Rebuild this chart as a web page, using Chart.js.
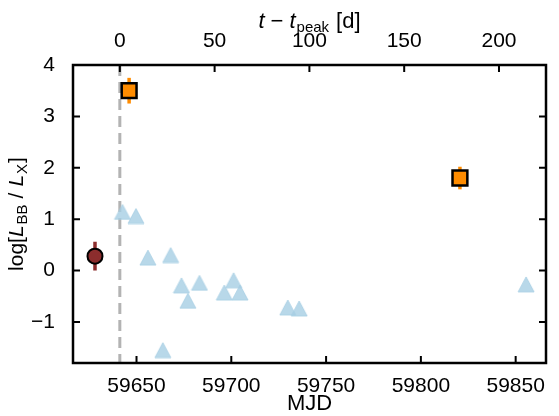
<!DOCTYPE html>
<html>
<head>
<meta charset="utf-8">
<script src="https://cdn.jsdelivr.net/npm/chart.js@4/dist/chart.umd.min.js"></script>
<style>
  html, body { margin: 0; padding: 0; background: #fff; }
  #grafico { display: block; }
</style>
</head>
<body>
<canvas id="grafico" width="559" height="416"></canvas>
<script>
// light blue triangles
const mjdTri = [59642.6, 59649.7, 59656.0, 59668.0, 59673.7, 59683.2, 59677.1,
                59701.2, 59696.3, 59704.6, 59729.8, 59735.8, 59663.9, 59855.5];
const logTri = [1.14, 1.06, 0.25, 0.30, -0.29, -0.24, -0.59,
                -0.19, -0.43, -0.43, -0.72, -0.74, -1.55, -0.27];

// dark red circle
const mjdCirc = [59628.1];
const logCirc = [0.28];
const errCirc = [0.28];

// orange squares
const mjdSq = [59646.1, 59820.6];
const logSq = [3.50, 1.80];
const errSq = [0.25, 0.22];

const tPeak = 59641.2;
const mjdRange = [59616.5, 59866];
const logRange = [-1.8, 4];
const mjdTicks = [59650, 59700, 59750, 59800, 59850];
const tTicks = [0, 50, 100, 150, 200];
const logTicks = [-1, 0, 1, 2, 3, 4];

const FONT = "'Liberation Sans', Arial, sans-serif";
const fmt = v => (v < 0 ? "\u2212" + Math.abs(v) : String(v));

// triangle marker centred on its bounding box (like matplotlib)
function triangleMarker() {
  const c = document.createElement("canvas");
  c.width = 18; c.height = 17;
  const g = c.getContext("2d");
  g.beginPath();
  g.moveTo(9, 1);
  g.lineTo(17, 16);
  g.lineTo(1, 16);
  g.closePath();
  g.fillStyle = "rgba(166,206,227,0.8)";
  g.fill();
  g.strokeStyle = "rgba(166,206,227,0.8)";
  g.lineWidth = 1;
  g.stroke();
  return c;
}

function toPoints(xs, ys) {
  return xs.map((x, i) => ({ x: x, y: ys[i] }));
}

function drawRuns(ctx, runs, x, y) {
  let total = 0;
  runs.forEach(r => { ctx.font = r.font; total += ctx.measureText(r.t).width + (r.gap || 0); });
  let cx = x - total / 2;
  ctx.textAlign = "left";
  ctx.textBaseline = "alphabetic";
  runs.forEach(r => {
    ctx.font = r.font;
    ctx.fillText(r.t, cx, y + (r.dy || 0));
    cx += ctx.measureText(r.t).width + (r.gap || 0);
  });
}

const overlay = {
  id: "overlay",
  beforeDatasetsDraw(chart) {
    const ctx = chart.ctx;
    const xs = chart.scales.x, ys = chart.scales.y;
    const a = chart.chartArea;
    ctx.save();
    // peak time line
    ctx.strokeStyle = "#b3b3b3";
    ctx.lineWidth = 3;
    ctx.setLineDash([11, 6]);
    const px = xs.getPixelForValue(tPeak);
    ctx.beginPath();
    ctx.moveTo(px, a.top);
    ctx.lineTo(px, a.bottom);
    ctx.stroke();
    ctx.setLineDash([]);
    // error bars
    const bars = (mx, my, me, col) => {
      ctx.strokeStyle = col;
      ctx.lineWidth = 3.5;
      mx.forEach((m, i) => {
        const x = xs.getPixelForValue(m);
        ctx.beginPath();
        ctx.moveTo(x, ys.getPixelForValue(my[i] - me[i]));
        ctx.lineTo(x, ys.getPixelForValue(my[i] + me[i]));
        ctx.stroke();
      });
    };
    bars(mjdCirc, logCirc, errCirc, "#8c2d2d");
    bars(mjdSq, logSq, errSq, "#ff8c00");
    ctx.restore();
  },
  afterDraw(chart) {
    const ctx = chart.ctx;
    const a = chart.chartArea;
    const xs = chart.scales.x, xt = chart.scales.xt, ys = chart.scales.y;
    ctx.save();
    ctx.strokeStyle = "#000";
    ctx.lineWidth = 2;
    const tl = 7;
    ctx.beginPath();
    mjdTicks.forEach(v => {
      const x = xs.getPixelForValue(v);
      ctx.moveTo(x, a.bottom); ctx.lineTo(x, a.bottom - tl);
    });
    tTicks.forEach(v => {
      const x = xt.getPixelForValue(v);
      ctx.moveTo(x, a.top); ctx.lineTo(x, a.top + tl);
    });
    logTicks.forEach(v => {
      const y = ys.getPixelForValue(v);
      ctx.moveTo(a.left, y); ctx.lineTo(a.left + tl, y);
      ctx.moveTo(a.right, y); ctx.lineTo(a.right - tl, y);
    });
    ctx.stroke();
    ctx.lineWidth = 2.5;
    ctx.strokeRect(a.left, a.top, a.right - a.left, a.bottom - a.top);

    // axis titles
    ctx.fillStyle = "#000";
    const big = "22px " + FONT, ital = "italic 22px " + FONT, small = "15px " + FONT;
    const cx = (a.left + a.right) / 2;
    ctx.textAlign = "center";
    ctx.textBaseline = "middle";
    ctx.font = big;
    ctx.fillText("MJD", cx, 404);

    drawRuns(ctx, [
      { t: "t", font: ital, gap: 6 },
      { t: "\u2212", font: big, gap: 6 },
      { t: "t", font: ital, gap: 1 },
      { t: "peak", font: small, dy: 4, gap: 7 },
      { t: "[d]", font: big }
    ], cx, 28);

    const yb = "21px " + FONT, yi = "italic 21px " + FONT, ys2 = "15px " + FONT;
    ctx.translate(23, (a.top + a.bottom) / 2);
    ctx.rotate(-Math.PI / 2);
    drawRuns(ctx, [
      { t: "log[", font: yb },
      { t: "L", font: yi, gap: 1 },
      { t: "BB", font: ys2, dy: 4, gap: 6 },
      { t: "/", font: yb, gap: 6 },
      { t: "L", font: yi, gap: 1 },
      { t: "X", font: ys2, dy: 4, gap: 1 },
      { t: "]", font: yb }
    ], 0, 0);
    ctx.restore();
  }
};

const tickFont = { family: FONT, size: 21 };

new Chart(document.getElementById("grafico"), {
  type: "scatter",
  data: {
    datasets: [
      {
        label: "squares",
        data: toPoints(mjdSq, logSq),
        pointStyle: "rect",
        pointRadius: 10.5,
        pointHoverRadius: 10.5,
        backgroundColor: "#ff8c00",
        borderColor: "#000",
        borderWidth: 2.5,
        order: 1
      },
      {
        label: "circle",
        data: toPoints(mjdCirc, logCirc),
        pointStyle: "circle",
        pointRadius: 7.5,
        pointHoverRadius: 7.5,
        backgroundColor: "#8c2d2d",
        borderColor: "#000",
        borderWidth: 2,
        order: 2
      },
      {
        label: "triangles",
        data: toPoints(mjdTri, logTri),
        pointStyle: triangleMarker(),
        pointRadius: 8,
        pointHoverRadius: 8,
        order: 3
      }
    ]
  },
  options: {
    responsive: false,
    animation: false,
    events: [],
    layout: { padding: { left: 0, right: 1, top: 0, bottom: 0 } },
    plugins: {
      legend: { display: false },
      tooltip: { enabled: false }
    },
    scales: {
      x: {
        type: "linear",
        position: "bottom",
        min: mjdRange[0],
        max: mjdRange[1],
        afterBuildTicks: s => { s.ticks = mjdTicks.map(v => ({ value: v })); },
        afterFit: s => { s.height = 53; },
        grid: { display: false },
        border: { display: false },
        ticks: { font: tickFont, color: "#000", padding: 3, maxRotation: 0, callback: v => fmt(v) }
      },
      xt: {
        type: "linear",
        position: "top",
        min: mjdRange[0] - tPeak,
        max: mjdRange[1] - tPeak,
        afterBuildTicks: s => { s.ticks = tTicks.map(v => ({ value: v })); },
        afterFit: s => { s.height = 65; },
        grid: { display: false },
        border: { display: false },
        ticks: { font: tickFont, color: "#000", padding: 3, maxRotation: 0, callback: v => fmt(v) }
      },
      y: {
        type: "linear",
        position: "left",
        min: logRange[0],
        max: logRange[1],
        afterBuildTicks: s => { s.ticks = logTicks.map(v => ({ value: v })); },
        afterFit: s => { s.width = 73; },
        grid: { display: false },
        border: { display: false },
        ticks: { font: tickFont, color: "#000", padding: 10, callback: v => fmt(v) }
      }
    }
  },
  plugins: [overlay]
});
</script>
</body>
</html>
